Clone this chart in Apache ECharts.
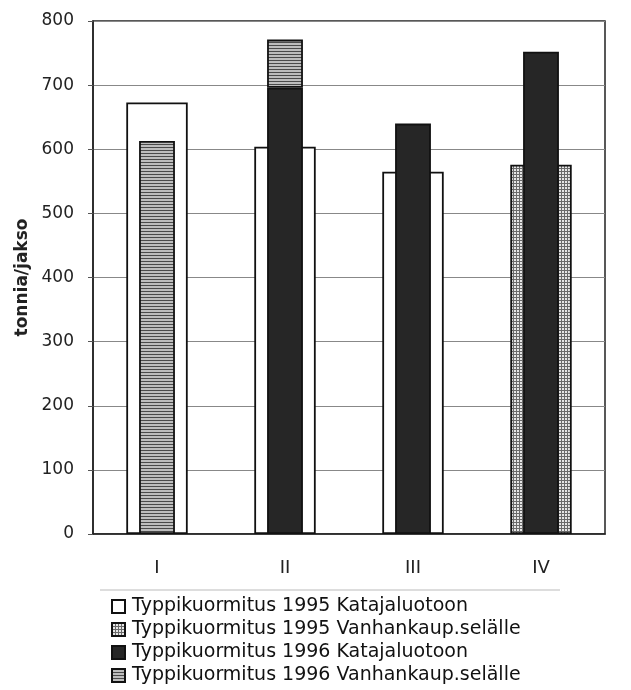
<!DOCTYPE html>
<html><head><meta charset="utf-8">
<script src="https://cdn.jsdelivr.net/npm/echarts@6/dist/echarts.min.js"></script>
<style>html,body{margin:0;padding:0;background:#fff}#c{width:631px;height:690px}</style>
</head><body><div id="c"></div>
<script>
const categories = ['I', 'II', 'III', 'IV'];
const seriesNames = [
  'Typpikuormitus 1995 Katajaluotoon',
  'Typpikuormitus 1995 Vanhankaup.selälle',
  'Typpikuormitus 1996 Katajaluotoon',
  'Typpikuormitus 1996 Vanhankaup.selälle'
];
const kataja1995 = [673, 604, 565, null];
const vanh1995 = [null, null, null, 576];
const kataja1996 = [null, 696, 640, 752];
const vanh1996 = [613, 75, null, null];
const yMin = 0, yMax = 800, yStep = 100;

function pattern(kind) {
  const c = document.createElement('canvas');
  c.width = 3; c.height = 3;
  const g = c.getContext('2d');
  if (kind === 'hlines') {
    g.fillStyle = '#bdbdbd'; g.fillRect(0, 0, 3, 3);
    g.fillStyle = '#4a4a4a'; g.fillRect(0, 0, 3, 1);
  } else {
    g.fillStyle = '#e6e6e6'; g.fillRect(0, 0, 3, 3);
    g.fillStyle = '#6a6a6a'; g.fillRect(0, 0, 3, 1); g.fillRect(0, 0, 1, 3);
  }
  return { image: c, repeat: 'repeat' };
}

const border = { borderColor: '#111', borderWidth: 1.8 };
const chart = echarts.init(document.getElementById('c'), null, { renderer: 'canvas' });
chart.setOption({
  animation: false,
  backgroundColor: '#fff',
  textStyle: { fontFamily: 'DejaVu Sans' },
  grid: { left: 93, right: 26, top: 21, bottom: 156, show: true, borderColor: '#222', borderWidth: 1.5 },
  legend: {
    orient: 'vertical', left: 106, top: 592, height: 200, itemWidth: 13, itemHeight: 13, itemGap: 4,
    icon: 'rect',
    textStyle: { fontSize: 19, color: '#111', fontFamily: 'DejaVu Sans', padding: [0, 0, 0, 2] },
    data: seriesNames
  },
  graphic: [{ type: 'line', shape: { x1: 100, y1: 590, x2: 560, y2: 590 }, style: { stroke: '#bbb', lineWidth: 1 } }],
  xAxis: [
    { type: 'category', data: categories, axisLine: { show: true, lineStyle: { color: '#222', width: 1.5 } },
      axisTick: { show: false }, axisLabel: { fontSize: 18, color: '#222', margin: 25 } },
    { type: 'category', data: categories, show: false }
  ],
  yAxis: {
    type: 'value', min: yMin, max: yMax, interval: yStep,
    name: 'tonnia/jakso', nameLocation: 'middle', nameGap: 59, nameRotate: 90,
    nameTextStyle: { fontSize: 17, fontWeight: 'bold', color: '#222' },
    axisLine: { show: true, lineStyle: { color: '#222', width: 1.5 } },
    axisTick: { show: true, length: 5, lineStyle: { color: '#555' } },
    axisLabel: { fontSize: 17, color: '#222', margin: 19 },
    splitLine: { lineStyle: { color: '#888', width: 1 } }
  },
  series: [
    { name: seriesNames[0], type: 'bar', xAxisIndex: 0, stack: 'a', barWidth: '48%', data: kataja1995,
      itemStyle: Object.assign({ color: '#fff' }, border) },
    { name: seriesNames[1], type: 'bar', xAxisIndex: 0, stack: 'a', barWidth: '48%', data: vanh1995,
      itemStyle: Object.assign({ color: pattern('dots') }, border) },
    { name: seriesNames[2], type: 'bar', xAxisIndex: 1, stack: 'b', barWidth: '28%', data: kataja1996,
      itemStyle: Object.assign({ color: '#262626' }, border) },
    { name: seriesNames[3], type: 'bar', xAxisIndex: 1, stack: 'b', barWidth: '28%', data: vanh1996,
      itemStyle: Object.assign({ color: pattern('hlines') }, border) }
  ]
});
</script></body></html>
